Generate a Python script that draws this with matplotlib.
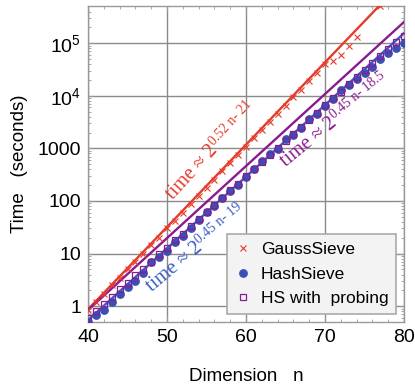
import numpy as np
import matplotlib
matplotlib.use("Agg")
import matplotlib.pyplot as plt
from matplotlib.ticker import FixedLocator, MultipleLocator, LogLocator, NullFormatter
from matplotlib.transforms import offset_copy

# ---- data ----
gauss_n = [40, 41, 42, 43, 44, 45, 46, 47, 48, 49, 50, 51, 52, 53, 54, 55, 56, 57,
           58, 59, 60, 61, 62, 63, 64, 65, 66, 67, 68, 69, 70, 71, 72, 73, 74, 77]
gauss_t = [0.85, 1.2, 1.7, 2.5, 3.4, 5.0, 7.0, 10, 14.5, 20, 30, 42, 60, 87, 125, 180,
           255, 370, 520, 760, 1080, 1550, 2200, 3200, 4500, 6500, 9300, 13000, 19000,
           27000, 40000, 45000, 60000, 87000, 130000, 500000]

hash_n = list(range(40, 81))
hash_t = [0.50, 0.67, 0.86, 1.21, 1.74, 2.27, 2.99, 4.3, 7.0, 8.7, 11.3, 16.3, 21.5, 30,
          43, 62, 81, 112, 155, 202, 290, 400, 586, 785, 964, 1500, 1800, 2490, 3600,
          4480, 6270, 8650, 13000, 16200, 21100, 27000, 35200, 50000, 65000, 81000, 100000]

probe_n = list(range(40, 81))
probe_t = [0.6, 0.8, 1.1, 1.5, 2.1, 2.8, 3.9, 5.2, 7.0, 9.8, 13, 18, 24, 34, 45, 62, 85,
           115, 160, 215, 300, 400, 560, 740, 1020, 1400, 1900, 2600, 3500, 4800, 6600,
           9000, 12000, 17000, 23000, 31000, 42000, 58000, 78000, 105000, 140000]

# fitted lines as drawn: time = 2^(a n + b)
fit_gauss = (0.52, -21.0)
fit_hash = (0.453, -19.0)
fit_probe = (0.455, -18.45)

# annotation texts
label_gauss = ("time ≈ 2", "0.52 n- 21")
label_hash = ("time ≈ 2", "0.45 n- 19")
label_probe = ("time ≈ 2", "0.45 n- 18.5")

x_ticks = [40, 50, 60, 70, 80]
y_ticks = [1, 10, 100, 1000, 1e4, 1e5]
y_tick_labels = ["1", "10", "100", "1000", r"$\mathregular{10^4}$", r"$\mathregular{10^5}$"]

RED = "#E53B2A"
BLUE = "#3A4FB5"
BLUE_LINE = "#3B5CC4"
PURPLE = "#8A1B8E"

plt.rcParams["font.family"] = ["Liberation Sans", "DejaVu Sans"]

DPI = 100
fig = plt.figure(figsize=(4.15, 3.87), dpi=DPI)
ax = fig.add_axes([88/415, 1-322/387, 316/415, 316/387])

nn = np.linspace(40, 80, 200)
for (a, b), c in [(fit_gauss, RED), (fit_probe, PURPLE), (fit_hash, BLUE_LINE)]:
    ax.plot(nn, 2.0 ** (a * nn + b), color=c, lw=1.7, zorder=3)

ax.plot(gauss_n, gauss_t, ls="none", marker="x", ms=5, mew=0.8, color=RED,
        label="GaussSieve", zorder=4)
ax.plot(hash_n, hash_t, ls="none", marker="o", ms=5.3, color=BLUE, mec=BLUE,
        label="HashSieve", zorder=4)
ax.plot(probe_n, probe_t, ls="none", marker="s", ms=4, mfc="none", mew=0.9,
        color=PURPLE, label="HS with  probing", zorder=5)

ax.set_yscale("log")
ax.set_xlim(40, 80)
ax.set_ylim(0.5, 5.1e5)

ax.xaxis.set_major_locator(FixedLocator(x_ticks))
ax.xaxis.set_minor_locator(MultipleLocator(2))
ax.set_yticks(y_ticks)
ax.set_yticklabels(y_tick_labels)
ax.yaxis.set_minor_locator(LogLocator(base=10, subs=np.arange(2, 10)))
ax.yaxis.set_minor_formatter(NullFormatter())

ax.grid(True, which="major", color="#8a8a8a", lw=1.0, zorder=1)
ax.set_axisbelow(True)
ax.tick_params(which="both", direction="in", top=True, right=True, color="#999999",
               labelsize=14, pad=5)
ax.tick_params(which="major", length=4, width=0.8)
ax.tick_params(which="minor", length=2.5, width=0.6)
for s in ax.spines.values():
    s.set_color("#999999")
    s.set_linewidth(1.0)

ax.set_xlabel("Dimension   n", fontsize=13.5, labelpad=16)
ax.set_ylabel("Time   (seconds)", fontsize=13.5, labelpad=7)

serif = ["Liberation Serif", "DejaVu Serif"]
renderer = fig.canvas.get_renderer()


def rotated_power_label(x, y, parts, color, angle, fs=14.5, exp_scale=0.68, raise_em=0.34):
    base, exp = parts
    ax.text(x, y, base, color=color, rotation=angle, rotation_mode="anchor",
            ha="left", va="baseline", fontsize=fs, family=serif, zorder=6)
    tmp = fig.text(0, 0, base, fontsize=fs, family=serif)
    w = tmp.get_window_extent(renderer).width + 0.5
    tmp.remove()
    th = np.radians(angle)
    up = raise_em * fs * DPI / 72.0
    dx = w * np.cos(th) - up * np.sin(th)
    dy = w * np.sin(th) + up * np.cos(th)
    tr = offset_copy(ax.transData, fig=fig, x=dx, y=dy, units="dots")
    ax.text(x, y, exp, transform=tr, color=color, rotation=angle, rotation_mode="anchor",
            ha="left", va="baseline", fontsize=fs * exp_scale, family=serif, zorder=6)


rotated_power_label(50.8, 105, label_gauss, RED, 47.5)
rotated_power_label(48.1, 1.85, label_hash, BLUE_LINE, 40)
rotated_power_label(65.1, 445, label_probe, PURPLE, 39.5)

leg = ax.legend(loc="lower right", bbox_to_anchor=(0.976, 0.025), fontsize=12.5,
                frameon=True, fancybox=False, edgecolor="#aaaaaa", facecolor="#f3f3f3",
                framealpha=1.0, handlelength=0.9, handletextpad=0.6, borderpad=0.45,
                labelspacing=0.55, borderaxespad=0)
leg.get_frame().set_linewidth(1.2)
leg.set_zorder(10)

fig.savefig("out.png", dpi=DPI)
